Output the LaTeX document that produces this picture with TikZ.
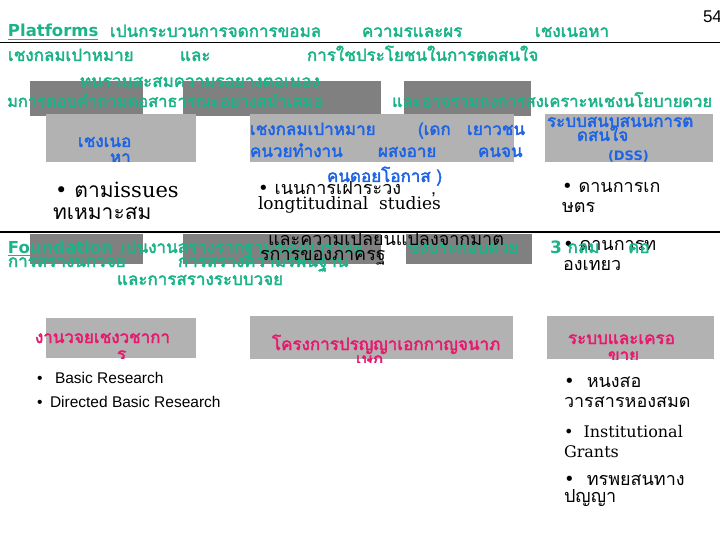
\documentclass[tikz,border=0pt]{standalone}
\usepackage{fontspec}
\newfontfamily\thai[Script=Thai]{Loma}
\newfontfamily\thaib[Script=Thai,FakeBold=2.5]{Loma}
\newfontfamily\lsans{Liberation Sans}
\newfontfamily\dsans{DejaVu Sans}
\newfontfamily\dserif{DejaVu Serif}
\definecolor{tgreen}{HTML}{1DB388}
\definecolor{tblue}{HTML}{1E64E6}
\definecolor{tmag}{HTML}{E8196E}
\definecolor{dgray}{HTML}{808080}
\definecolor{lgray}{HTML}{B2B2B2}
\tikzset{
  txt/.style={inner sep=0pt, outer sep=0pt, anchor=base west},
  gtxt/.style={txt, text=tgreen, font=\thaib\fontsize{17}{17}\selectfont},
  gltxt/.style={txt, text=tgreen, font=\dsans\bfseries\fontsize{16.5}{16.5}\selectfont},
  btxt/.style={txt, text=tblue, font=\thaib\fontsize{17}{17}\selectfont},
  mtxt/.style={txt, text=tmag, font=\thaib\fontsize{17}{17}\selectfont},
  ktxt/.style={txt, text=black, font=\thai\fontsize{18}{18}\selectfont},
  kbig/.style={txt, text=black, font=\thai\fontsize{21}{21}\selectfont},
  stxt/.style={txt, text=black, font=\lsans\fontsize{15.5}{15.5}\selectfont},
  darkbox/.style={fill=dgray, draw=none},
  lightbox/.style={fill=lgray, draw=none},
  rule/.style={draw=black, line width=1pt},
  ul/.style={draw=tgreen, line width=1.5pt}
}
\begin{document}
\begin{tikzpicture}[x=1pt,y=-1pt]
\useasboundingbox (0,0) rectangle (720,540);
% dark gray rectangles
\fill[darkbox] (30,81) rectangle (143,116);
\fill[darkbox] (183,81) rectangle (381,116);
\fill[darkbox] (404,81) rectangle (531,116);
\fill[darkbox] (30,234) rectangle (143,264);
\fill[darkbox] (183,234) rectangle (381,264);
\fill[darkbox] (406,234) rectangle (532,264);
% rules
\coordinate (r1a) at (0,43); \coordinate (r1b) at (720,43);
\coordinate (r2a) at (0,232); \coordinate (r2b) at (720,232);
\draw[rule] (r1a) -- (r1b);
\draw[rule] (r2a) -- (r2b);
% light boxes
\fill[lightbox] (46,114) rectangle (196,162);
\fill[lightbox] (250,114) rectangle (514,162);
\fill[lightbox] (545,114) rectangle (713,162);
\fill[lightbox] (46,318) rectangle (196,358);
\fill[lightbox] (250,316) rectangle (513,359);
\fill[lightbox] (547,316) rectangle (714,359);

% page number
\node[txt, font=\lsans\fontsize{17}{17}\selectfont] (pg) at (703,23) {54};

% green block 1
\node[gltxt] (pl) at (8,37) {Platforms};
\draw[ul] ([yshift=-2.5pt]pl.base west) -- ([yshift=-2.5pt]pl.base east);
\node[gtxt] (g1) at (110,37) {เปนกระบวนการจดการขอมล};
\node[gtxt] (g2) at (362,37) {ความรและผร};
\node[gtxt] (g3) at (535,37) {เชงเนอหา};
\node[gtxt] (g4) at (8,61) {เชงกลมเปาหมาย};
\node[gtxt] (g5) at (180,61) {และ};
\node[gtxt] (g6) at (307,61) {การใชประโยชนในการตดสนใจ};
\node[gtxt] (g7) at (80,87) {ทนรวมสะสมความรอยางตอเนอง};
\node[gtxt, font=\thaib\fontsize{16.5}{16.5}\selectfont] (g8) at (7,107) {มการตอบคำถามตอสาธารณะอยางสมำเสมอ};
\node[gtxt, font=\thaib\fontsize{16.5}{16.5}\selectfont] (g9) at (392,107) {และอาจรวมถงการสงเคราะหเชงนโยบายดวย};

% blue labels
\begin{scope}
\clip (0,100) rectangle (240,162);
\node[btxt] (a1) at (78,147) {เชงเนอ};
\node[btxt] (a2) at (110,163) {หา};
\end{scope}
\node[btxt] (b1) at (250,135) {เชงกลมเปาหมาย};
\node[btxt] (b2) at (418,135) {(เดก};
\node[btxt] (b3) at (467,135) {เยาวชน};
\node[btxt] (b4) at (250,157) {คนวยทำงาน};
\node[btxt] (b5) at (378,157) {ผสงอาย};
\node[btxt] (b6) at (478,157) {คนจน};
\node[btxt] (b7) at (327,182) {คนดอยโอกาส )};
\node[btxt] (c1) at (547,127) {ระบบสนบสนนการต};
\node[btxt] (c2) at (577,141) {ดสนใจ};
\node[txt, text=tblue, font=\dsans\bfseries\fontsize{13}{13}\selectfont] (c3) at (608,161) {(DSS)};

% black bullets row 1
\node[kbig] (k1) at (55,198) {{\dserif •} ตาม{\dserif issues}};
\node[kbig] (k2) at (53,220) {ทเหมาะสม};
\node[ktxt] (k3) at (258,195) {{\dserif •} เนนการเฝาระวง};
\node[ktxt] (k3c) at (431,195) {,};
\node[txt, font=\dserif\fontsize{17}{17}\selectfont] (k4) at (258,210) {longtitudinal \ studies};
\node[ktxt] (k5) at (562,193) {{\dserif •} ดานการเก};
\node[ktxt] (k6) at (562,212) {ษตร};

% green block 2
\node[gltxt] (fd) at (8,253) {Foundation};
\draw[ul] ([yshift=-2.5pt]fd.base west) -- ([yshift=-2.5pt]fd.base east);
\node[gtxt] (h1) at (120,253) {เปนงานสรางรากฐานของการวจย};
\node[gtxt] (h2) at (408,253) {ซงประกอบดวย};
\node[gtxt] (h3) at (8,267) {การสรางนกวจย};
\node[gtxt] (h4) at (178,267) {การสรางความรพนฐาน};
\node[gtxt] (h5) at (117,285) {และการสรางระบบวจย};

% black text row 2
\node[ktxt] (k7) at (268,245) {และความเปลยนแปลงจากมาต};
\node[ktxt] (k8) at (260,260) {รการของภาครฐ};
\node[ktxt] (k9) at (563,250) {{\dserif •} ดานการท};
\node[ktxt] (k10) at (563,270) {องเทยว};
\node[gtxt] (h6) at (550,253) {{\dsans\bfseries 3} กลม};
\node[gtxt] (h7) at (628,253) {คอ};

% magenta labels
\begin{scope}
\clip (0,300) rectangle (240,358);
\node[mtxt] (m1) at (35,343) {งานวจยเชงวชากา};
\node[mtxt] (m2) at (117,360) {ร};
\end{scope}
\begin{scope}
\clip (240,300) rectangle (540,362);
\node[mtxt] (m3) at (272,350) {โครงการปรญญาเอกกาญจนาภ};
\node[mtxt] (m4) at (356,365) {เษก};
\end{scope}
\begin{scope}
\clip (540,300) rectangle (720,359);
\node[mtxt] (m5) at (568,344) {ระบบและเครอ};
\node[mtxt] (m6) at (608,361) {ขาย};
\end{scope}

% sans bullets
\node[stxt] (s1b) at (37,383) {•};
\node[stxt] (s1) at (55,383) {Basic Research};
\node[stxt] (s2b) at (37,407) {•};
\node[stxt] (s2) at (50,407) {Directed Basic Research};

% right serif bullets
\node[ktxt] (r1) at (564,387) {{\dserif •} \ หนงสอ};
\node[ktxt] (r2) at (564,407) {วารสารหองสมด};
\node[txt, font=\dserif\fontsize{16}{16}\selectfont] (r3) at (564,437) {• \ Institutional};
\node[txt, font=\dserif\fontsize{16}{16}\selectfont] (r4) at (564,457) {Grants};
\node[ktxt] (r5) at (564,485) {{\dserif •} \ ทรพยสนทาง};
\node[ktxt] (r6) at (564,502) {ปญญา};
\end{tikzpicture}
\end{document}
